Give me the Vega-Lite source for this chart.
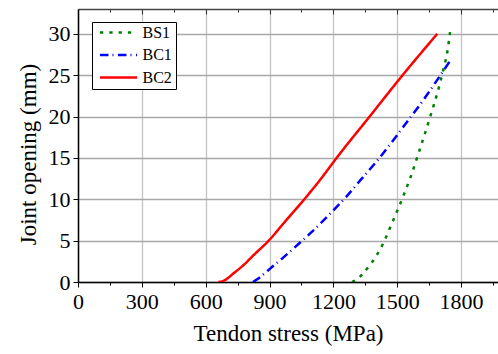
{
  "$schema": "https://vega.github.io/schema/vega-lite/v6.json",
  "width": 421,
  "height": 273,
  "autosize": {"type": "none"},
  "padding": {"left": 78, "top": 9, "right": 0, "bottom": 72},
  "background": "white",
  "config": {
    "view": {"stroke": null},
    "font": "Times New Roman",
    "axis": {"labelColor": "black", "titleColor": "black", "titleFontWeight": "normal"}
  },
  "data": {"values": [
    {"s": "BS1", "x": 1288, "y": 0}, {"s": "BS1", "x": 1310, "y": 0.3}, {"s": "BS1", "x": 1334, "y": 0.9},
    {"s": "BS1", "x": 1370, "y": 2.0}, {"s": "BS1", "x": 1405, "y": 3.3}, {"s": "BS1", "x": 1440, "y": 5.0},
    {"s": "BS1", "x": 1470, "y": 6.8}, {"s": "BS1", "x": 1500, "y": 8.6}, {"s": "BS1", "x": 1530, "y": 10.5},
    {"s": "BS1", "x": 1560, "y": 12.5}, {"s": "BS1", "x": 1608, "y": 16.2}, {"s": "BS1", "x": 1655, "y": 20},
    {"s": "BS1", "x": 1690, "y": 23}, {"s": "BS1", "x": 1715, "y": 25.5}, {"s": "BS1", "x": 1735, "y": 27.8},
    {"s": "BS1", "x": 1748, "y": 30.2},
    {"s": "BC1", "x": 822, "y": 0}, {"s": "BC1", "x": 849, "y": 0.45}, {"s": "BC1", "x": 875, "y": 1.0},
    {"s": "BC1", "x": 904, "y": 1.65}, {"s": "BC1", "x": 960, "y": 2.85}, {"s": "BC1", "x": 1013, "y": 4.07},
    {"s": "BC1", "x": 1092, "y": 5.9}, {"s": "BC1", "x": 1186, "y": 8.3}, {"s": "BC1", "x": 1260, "y": 10.3},
    {"s": "BC1", "x": 1330, "y": 12.4}, {"s": "BC1", "x": 1410, "y": 14.8}, {"s": "BC1", "x": 1483, "y": 17.2},
    {"s": "BC1", "x": 1550, "y": 19.5}, {"s": "BC1", "x": 1617, "y": 21.8}, {"s": "BC1", "x": 1687, "y": 24.4},
    {"s": "BC1", "x": 1755, "y": 27},
    {"s": "BC2", "x": 659, "y": 0}, {"s": "BC2", "x": 675, "y": 0.05}, {"s": "BC2", "x": 692, "y": 0.25},
    {"s": "BC2", "x": 731, "y": 1.05}, {"s": "BC2", "x": 778, "y": 2.05}, {"s": "BC2", "x": 825, "y": 3.25},
    {"s": "BC2", "x": 896, "y": 5}, {"s": "BC2", "x": 966, "y": 7.1}, {"s": "BC2", "x": 1060, "y": 9.9},
    {"s": "BC2", "x": 1142, "y": 12.5}, {"s": "BC2", "x": 1215, "y": 15},
    {"s": "BC2", "x": 1370, "y": 20}, {"s": "BC2", "x": 1525, "y": 25}, {"s": "BC2", "x": 1688, "y": 30}
  ]},
  "resolve": {"axis": {"x": "independent"}},
  "layer": [
    {
      "mark": {"type": "line", "strokeWidth": 2.5, "clip": true, "interpolate": "monotone"},
      "encoding": {
        "x": {"field": "x", "type": "quantitative",
          "scale": {"domain": [0, 1978], "nice": false, "zero": false},
          "axis": {
            "orient": "bottom", "title": "Tendon stress (MPa)",
            "values": [0, 150, 300, 450, 600, 750, 900, 1050, 1200, 1350, 1500, 1650, 1800, 1950],
            "labelExpr": "datum.value % 300 === 0 ? datum.label : ''",
            "format": "d",
            "labelFont": "Times New Roman", "titleFont": "Times New Roman", "titleFontWeight": "normal",
            "labelFontSize": 22, "titleFontSize": 23, "labelPadding": 4, "titlePadding": 10,
            "labelFlush": false,
            "domainColor": "black", "domainWidth": 1.5,
            "tickColor": "black",
            "tickSize": {"condition": {"test": "datum.value % 300 === 0", "value": 5}, "value": 3},
            "grid": true, "gridColor": "#c4c4c4", "gridWidth": 1.3,
            "gridOpacity": {"condition": {"test": "datum.value % 300 === 0", "value": 1}, "value": 0},
            "titleX": 210
          }
        },
        "y": {"field": "y", "type": "quantitative",
          "scale": {"domain": [0, 33], "nice": false},
          "axis": {
            "title": "Joint opening (mm)",
            "values": [0, 2.5, 5, 7.5, 10, 12.5, 15, 17.5, 20, 22.5, 25, 27.5, 30, 32.5],
            "labelExpr": "datum.value % 5 === 0 ? format(datum.value, 'd') : ''",
            "labelFont": "Times New Roman", "titleFont": "Times New Roman", "titleFontWeight": "normal",
            "labelFontSize": 22, "titleFontSize": 23, "labelPadding": 3, "titlePadding": 8,
            "labelFlush": false,
            "domainColor": "black", "domainWidth": 1.5,
            "tickColor": "black",
            "tickSize": {"condition": {"test": "datum.value % 5 === 0", "value": 5}, "value": 3},
            "grid": true, "gridColor": "#a8a8a8", "gridWidth": 1.3,
            "gridOpacity": {"condition": {"test": "datum.value % 5 === 0", "value": 1}, "value": 0},
            "titleY": 145
          }
        },
        "color": {"field": "s", "type": "nominal",
          "scale": {"domain": ["BS1", "BC1", "BC2"], "range": ["#008000", "#0000ff", "#ff0000"]},
          "legend": {
            "title": null, "orient": "none", "legendX": 14, "legendY": 13,
            "symbolType": "stroke", "symbolSize": 1369, "symbolStrokeWidth": 2.5,
            "symbolOffset": 3,
            "labelFont": "Times New Roman",
            "labelFontSize": 16, "labelColor": "black", "labelOffset": 4,
            "clipHeight": 14,
            "strokeColor": "black", "fillColor": "white", "padding": 3.5, "rowPadding": 6.5
          }
        },
        "strokeDash": {"field": "s", "type": "nominal",
          "scale": {"domain": ["BS1", "BC1", "BC2"], "range": [[3.3, 6], [8.5, 4, 1, 4.5], [1, 0]]},
          "legend": null
        }
      }
    },
    {
      "mark": {"type": "line", "opacity": 0},
      "encoding": {
        "x": {"field": "x", "type": "quantitative",
          "axis": {
            "orient": "top", "title": null, "labels": false,
            "values": [0, 150, 300, 450, 600, 750, 900, 1050, 1200, 1350, 1500, 1650, 1800, 1950],
            "domainColor": "#444444", "domainWidth": 1.5, "tickColor": "#333333",
            "tickSize": {"condition": {"test": "datum.value % 300 === 0", "value": -5}, "value": -3},
            "grid": false
          }
        },
        "y": {"field": "y", "type": "quantitative"}
      }
    }
  ]
}
